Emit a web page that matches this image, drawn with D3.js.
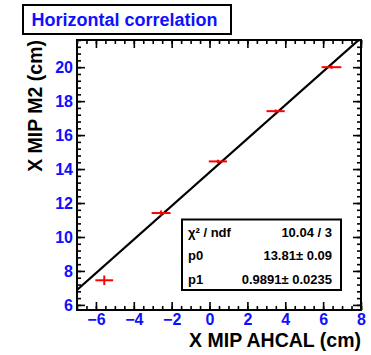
<!DOCTYPE html>
<html>
<head>
<meta charset="utf-8">
<script src="https://cdn.jsdelivr.net/npm/d3@7"></script>
<style>
  body { margin: 0; background: #fff; }
  text { font-family: "Liberation Sans", Arial, Helvetica, sans-serif; font-weight: bold; }
</style>
</head>
<body>
<div id="chart"></div>
<script>
// measured points (x from AHCAL, y from M2) with errors
const xVals = [-5.56, -2.56, 0.44, 3.49, 6.44];
const yVals = [7.45, 11.41, 14.45, 17.41, 20.0];
const xErrs = [0.47, 0.5, 0.48, 0.48, 0.52];
const yErrs = [0.28, 0.15, 0.1, 0.1, 0.1];
// fit result
const fitP0 = 13.81;
const fitP1 = 0.9891;
const statLabels = ["χ² / ndf", "p0", "p1"];
const statValues = ["10.04 / 3", "13.81± 0.09", "0.9891± 0.0235"];
const xTicks = [-6, -4, -2, 0, 2, 4, 6, 8];
const yTicks = [6, 8, 10, 12, 14, 16, 18, 20];

const width = 371, height = 355;
const margin = { top: 40, right: 10, bottom: 45, left: 77 };

const svg = d3.select("#chart").append("svg")
  .attr("width", width)
  .attr("height", height);

const x = d3.scaleLinear().domain([-7, 8]).range([margin.left, width - margin.right]);
const y = d3.scaleLinear().domain([5.7, 21.6]).range([height - margin.bottom, margin.top]);

const x0 = x.range()[0], x1 = x.range()[1];
const y0 = y.range()[0], y1 = y.range()[1];

// minor ticks
const xMinor = d3.range(-7, 8.001, 0.5);
const yMinor = d3.range(6, 21.61, 0.4);

const g = svg.append("g");

// bottom axis, ticks pointing inward
g.append("g")
  .attr("transform", "translate(0," + y0 + ")")
  .call(d3.axisBottom(x).tickValues(xMinor).tickSize(-4).tickFormat("").tickSizeOuter(0))
  .call(a => a.select(".domain").remove());
g.append("g")
  .attr("class", "x axis")
  .attr("transform", "translate(0," + y0 + ")")
  .call(d3.axisBottom(x).tickValues(xTicks).tickSize(-8).tickSizeOuter(0).tickPadding(4))
  .call(a => a.select(".domain").remove());

// top axis mirror
g.append("g")
  .attr("transform", "translate(0," + y1 + ")")
  .call(d3.axisTop(x).tickValues(xMinor).tickSize(-4).tickFormat("").tickSizeOuter(0))
  .call(a => a.select(".domain").remove());
g.append("g")
  .attr("transform", "translate(0," + y1 + ")")
  .call(d3.axisTop(x).tickValues(xTicks).tickSize(-8).tickFormat("").tickSizeOuter(0))
  .call(a => a.select(".domain").remove());

// left axis
g.append("g")
  .attr("transform", "translate(" + x0 + ",0)")
  .call(d3.axisLeft(y).tickValues(yMinor).tickSize(-4).tickFormat("").tickSizeOuter(0))
  .call(a => a.select(".domain").remove());
g.append("g")
  .attr("class", "y axis")
  .attr("transform", "translate(" + x0 + ",0)")
  .call(d3.axisLeft(y).tickValues(yTicks).tickSize(-8).tickSizeOuter(0).tickPadding(4))
  .call(a => a.select(".domain").remove());

// right axis mirror
g.append("g")
  .attr("transform", "translate(" + x1 + ",0)")
  .call(d3.axisRight(y).tickValues(yMinor).tickSize(-4).tickFormat("").tickSizeOuter(0))
  .call(a => a.select(".domain").remove());
g.append("g")
  .attr("transform", "translate(" + x1 + ",0)")
  .call(d3.axisRight(y).tickValues(yTicks).tickSize(-8).tickFormat("").tickSizeOuter(0))
  .call(a => a.select(".domain").remove());

g.selectAll(".tick line").attr("stroke", "#000").attr("stroke-width", 1.6);
g.selectAll(".tick text")
  .attr("fill", "#1010ff")
  .style("font-size", "16px")
  .style("font-family", "'Liberation Sans', Arial, sans-serif")
  .style("font-weight", "bold");
g.selectAll(".y.axis .tick text").attr("dy", "0.36em");

// fit line, clipped to the frame
svg.append("clipPath").attr("id", "frameClip")
  .append("rect")
  .attr("x", x0).attr("y", y1)
  .attr("width", x1 - x0).attr("height", y0 - y1);

const fitX = [-7, 8];
svg.append("path")
  .attr("clip-path", "url(#frameClip)")
  .attr("d", d3.line().x(d => x(d)).y(d => y(fitP0 + fitP1 * d))(fitX))
  .attr("stroke", "#000")
  .attr("stroke-width", 2.2)
  .attr("fill", "none");

// error bars
const pts = xVals.map((v, i) => ({ x: v, y: yVals[i], ex: xErrs[i], ey: yErrs[i] }));
const marks = svg.append("g").attr("stroke", "#ff0000").attr("stroke-width", 2);
marks.selectAll(".hbar").data(pts).enter().append("line")
  .attr("x1", d => x(d.x - d.ex)).attr("x2", d => x(d.x + d.ex))
  .attr("y1", d => y(d.y)).attr("y2", d => y(d.y));
marks.selectAll(".vbar").data(pts).enter().append("line")
  .attr("x1", d => x(d.x)).attr("x2", d => x(d.x))
  .attr("y1", d => y(d.y - d.ey)).attr("y2", d => y(d.y + d.ey));

// frame
svg.append("rect")
  .attr("x", x0).attr("y", y1)
  .attr("width", x1 - x0).attr("height", y0 - y1)
  .attr("fill", "none")
  .attr("stroke", "#000")
  .attr("stroke-width", 2);

// stats box
const sb = svg.append("g");
sb.append("rect")
  .attr("x", 182).attr("y", 219.5)
  .attr("width", 159).attr("height", 70.5)
  .attr("fill", "#fff")
  .attr("stroke", "#000")
  .attr("stroke-width", 2);
sb.selectAll(".slbl").data(statLabels).enter().append("text")
  .attr("x", 188)
  .attr("y", (d, i) => 236.5 + i * 23.8)
  .style("font-size", "13px")
  .text(d => d);
sb.selectAll(".sval").data(statValues).enter().append("text")
  .attr("x", 332)
  .attr("y", (d, i) => 236.5 + i * 23.8)
  .attr("text-anchor", "end")
  .style("font-size", "13px")
  .text(d => d);

// title box
svg.append("rect")
  .attr("x", 23).attr("y", 5)
  .attr("width", 208).attr("height", 29)
  .attr("fill", "#fff")
  .attr("stroke", "#000")
  .attr("stroke-width", 2);
svg.append("text")
  .attr("x", 31.5).attr("y", 25.8)
  .attr("fill", "#1010ff")
  .style("font-size", "18px")
  .text("Horizontal correlation");

// axis titles
svg.append("text")
  .attr("x", x1).attr("y", 347)
  .attr("text-anchor", "end")
  .style("font-size", "19.5px")
  .text("X MIP AHCAL (cm)");
svg.append("text")
  .attr("transform", "translate(42," + y1 + ") rotate(-90)")
  .attr("text-anchor", "end")
  .style("font-size", "19.5px")
  .text("X MIP M2 (cm)");
</script>
</body>
</html>
